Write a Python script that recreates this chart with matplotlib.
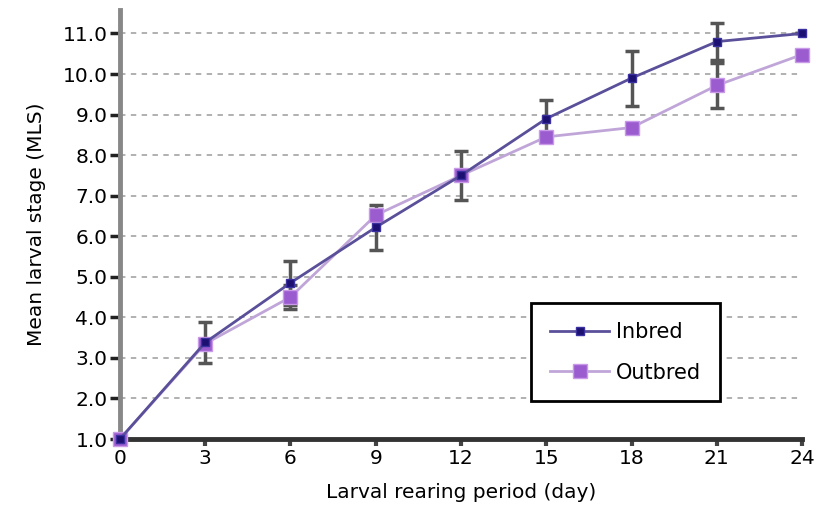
import matplotlib
matplotlib.use("Agg")
import matplotlib.pyplot as plt

days = [0, 3, 6, 9, 12, 15, 18, 21, 24]
inbred = [1.0, 3.38, 4.85, 6.22, 7.5, 8.9, 9.9, 10.8, 11.0]
inbred_err = [0.0, 0.5, 0.55, 0.55, 0.6, 0.45, 0.68, 0.45, 0.0]
outbred = [1.0, 3.35, 4.5, 6.52, 7.5, 8.45, 8.68, 9.72, 10.48]
outbred_err = [0.0, 0.0, 0.3, 0.0, 0.0, 0.0, 0.0, 0.55, 0.0]
yticks = [1.0, 2.0, 3.0, 4.0, 5.0, 6.0, 7.0, 8.0, 9.0, 10.0, 11.0]

fig = plt.figure(figsize=(8.16, 5.18), dpi=100)
ax = fig.add_axes([0.147, 0.1525, 0.836, 0.8275])

for y in yticks:
    ax.axhline(y, color="#aaaaaa", lw=1.3, ls=(0, (3, 3)), zorder=0)

ax.errorbar(days, outbred, yerr=outbred_err, fmt="none", ecolor="#555555",
            elinewidth=2.5, capsize=5, capthick=2.5, zorder=2)
ax.errorbar(days, inbred, yerr=inbred_err, fmt="none", ecolor="#555555",
            elinewidth=2.5, capsize=5, capthick=2.5, zorder=2)
ax.plot(days, outbred, color="#c0a6d8", lw=2, marker="s", ms=10,
        mfc="#9b5ccf", mec="#c89ae8", label="Outbred", zorder=3,
        clip_on=False)
ax.plot(days, inbred, color="#5a509a", lw=2, marker="s", ms=6,
        mfc="#1c1070", mec="#3a30a0", label="Inbred", zorder=4,
        clip_on=False)

ax.set_xlim(0, 24)
ax.set_ylim(1.0, 11.57)
ax.set_xticks(days)
ax.set_yticks(yticks)
ax.set_yticklabels([f"{v:.1f}" for v in yticks])
ax.tick_params(axis="y", direction="out", length=7, width=2.5, color="#222222",
               labelsize=14.5, pad=2)
ax.tick_params(axis="x", direction="out", length=5, width=3, color="#444444",
               labelsize=14.5, pad=2)
for s in ["top", "right"]:
    ax.spines[s].set_visible(False)
ax.spines["left"].set_color("#888888")
ax.spines["left"].set_linewidth(3.5)
ax.spines["bottom"].set_color("#333333")
ax.spines["bottom"].set_linewidth(3.5)

ax.set_xlabel("Larval rearing period (day)", fontsize=14.5, labelpad=11)
ax.set_ylabel("Mean larval stage (MLS)", fontsize=14.5, labelpad=12)

handles, labels = ax.get_legend_handles_labels()
leg = ax.legend(handles[::-1], labels[::-1], loc="upper left",
                bbox_to_anchor=(0.603, 0.317), fontsize=15, frameon=True,
                fancybox=False, edgecolor="black", framealpha=1,
                borderpad=0.9, labelspacing=1.0, handlelength=2.84,
                handletextpad=0.34, borderaxespad=0)
leg.get_frame().set_linewidth(2)

fig.savefig("out.png", dpi=100)
